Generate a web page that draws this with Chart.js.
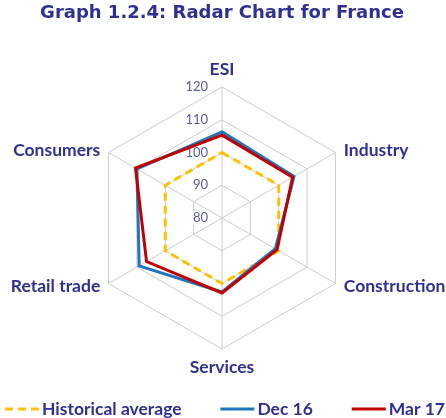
<!DOCTYPE html>
<html><head><meta charset="utf-8">
<script src="https://cdn.jsdelivr.net/npm/chart.js@4/dist/chart.umd.min.js"></script>
<style>html,body{margin:0;padding:0;background:#fff;} canvas{display:block;}</style>
</head><body>
<canvas id="c" width="446" height="418"></canvas>
<script>
const categories = ['ESI', 'Industry', 'Construction', 'Services', 'Retail trade', 'Consumers'];
const historicalAverage = [100, 100, 100, 100, 100, 100];
const dec16 = [106.3, 105.4, 98.8, 102.6, 109.2, 110.0];
const mar17 = [105.3, 104.9, 99.4, 102.9, 106.6, 110.5];
const seriesNames = ['Historical average', 'Dec 16', 'Mar 17'];
const tickValues = [80, 90, 100, 110, 120];
const titleText = 'Graph 1.2.4: Radar Chart for France';

const NAVY = '#2E3192';
const TICK_COLOR = '#5A5AA0';
const LABEL_FONT = '700 17.5px Lato';

const radarText = {
  id: 'radarText',
  beforeDatasetsDraw(chart) {
    const s = chart.scales.r;
    const ctx = chart.ctx;
    ctx.save();
    // tick labels (right-aligned, left of the vertical axis)
    ctx.font = '13px Lato';
    ctx.textAlign = 'right';
    ctx.textBaseline = 'middle';
    s.ticks.forEach(t => {
      const y = s.yCenter - s.getDistanceFromCenterForValue(t.value);
      const x = s.xCenter - 14;
      const w = ctx.measureText(t.label).width;
      ctx.fillStyle = '#ffffff';
      ctx.fillRect(x - w - 2, y - 6, w + 4, 12);
      ctx.fillStyle = TICK_COLOR;
      ctx.fillText(t.label, x, y);
    });
    // point labels
    ctx.font = LABEL_FONT;
    ctx.fillStyle = NAVY;
    ctx.textBaseline = 'middle';
    categories.forEach((lab, i) => {
      const probe = s.getPointPosition(i, s.drawingArea);
      const dx = probe.x - s.xCenter;
      if (Math.abs(dx) < 1) {
        const p = s.getPointPosition(i, s.drawingArea + 18);
        ctx.textAlign = 'center';
        ctx.fillText(lab, p.x, p.y);
      } else {
        const p = s.getPointPosition(i, s.drawingArea + 5);
        ctx.textAlign = dx > 0 ? 'left' : 'right';
        ctx.fillText(lab, p.x + (dx > 0 ? 4 : -4), p.y);
      }
    });
    ctx.restore();
  },
  afterDraw(chart) {
    const ctx = chart.ctx;
    ctx.save();
    ctx.font = LABEL_FONT;
    const lineLen = 34, gapText = 3;
    const items = chart.data.datasets.map(ds => ({ ds, w: ctx.measureText(ds.label).width }));
    const left = 5, right = chart.width - 1;
    const content = items.reduce((a, it) => a + lineLen + gapText + it.w, 0);
    const gap = (right - left - content) / (items.length - 1);
    const y = 409;
    let x = left;
    items.forEach(it => {
      ctx.strokeStyle = it.ds.borderColor;
      ctx.lineWidth = 3;
      ctx.setLineDash(it.ds.borderDash || []);
      ctx.beginPath();
      ctx.moveTo(x, y);
      ctx.lineTo(x + lineLen, y);
      ctx.stroke();
      ctx.setLineDash([]);
      ctx.fillStyle = NAVY;
      ctx.textAlign = 'left';
      ctx.textBaseline = 'middle';
      ctx.fillText(it.ds.label, x + lineLen + gapText, y);
      x += lineLen + gapText + it.w + gap;
    });
    ctx.restore();
  }
};

new Chart(document.getElementById('c'), {
  type: 'radar',
  data: {
    labels: categories,
    datasets: [
      { label: seriesNames[0], data: historicalAverage, borderColor: '#FFC000', borderDash: [8, 5], borderWidth: 3, order: 3 },
      { label: seriesNames[1], data: dec16, borderColor: '#1F76BE', borderWidth: 3, order: 2 },
      { label: seriesNames[2], data: mar17, borderColor: '#C00000', borderWidth: 3, order: 1 }
    ]
  },
  options: {
    responsive: false,
    animation: false,
    layout: { padding: { top: 0, left: 0, right: 2, bottom: 69 } },
    elements: {
      line: { fill: false, tension: 0, backgroundColor: 'transparent' },
      point: { radius: 0, hoverRadius: 0, hitRadius: 0 }
    },
    scales: {
      r: {
        min: tickValues[0],
        max: tickValues[tickValues.length - 1],
        ticks: { stepSize: tickValues[1] - tickValues[0], display: false },
        grid: { color: '#CCCCCC', lineWidth: 1 },
        angleLines: { color: '#CCCCCC', lineWidth: 1 },
        pointLabels: { display: false }
      }
    },
    plugins: {
      legend: { display: false },
      tooltip: { enabled: false },
      title: {
        display: true,
        text: titleText,
        color: NAVY,
        font: { family: 'DejaVu Sans', weight: 'bold', size: 18 },
        padding: { top: 3, bottom: 62.4 }
      }
    }
  },
  plugins: [radarText]
});
</script>
</body></html>
